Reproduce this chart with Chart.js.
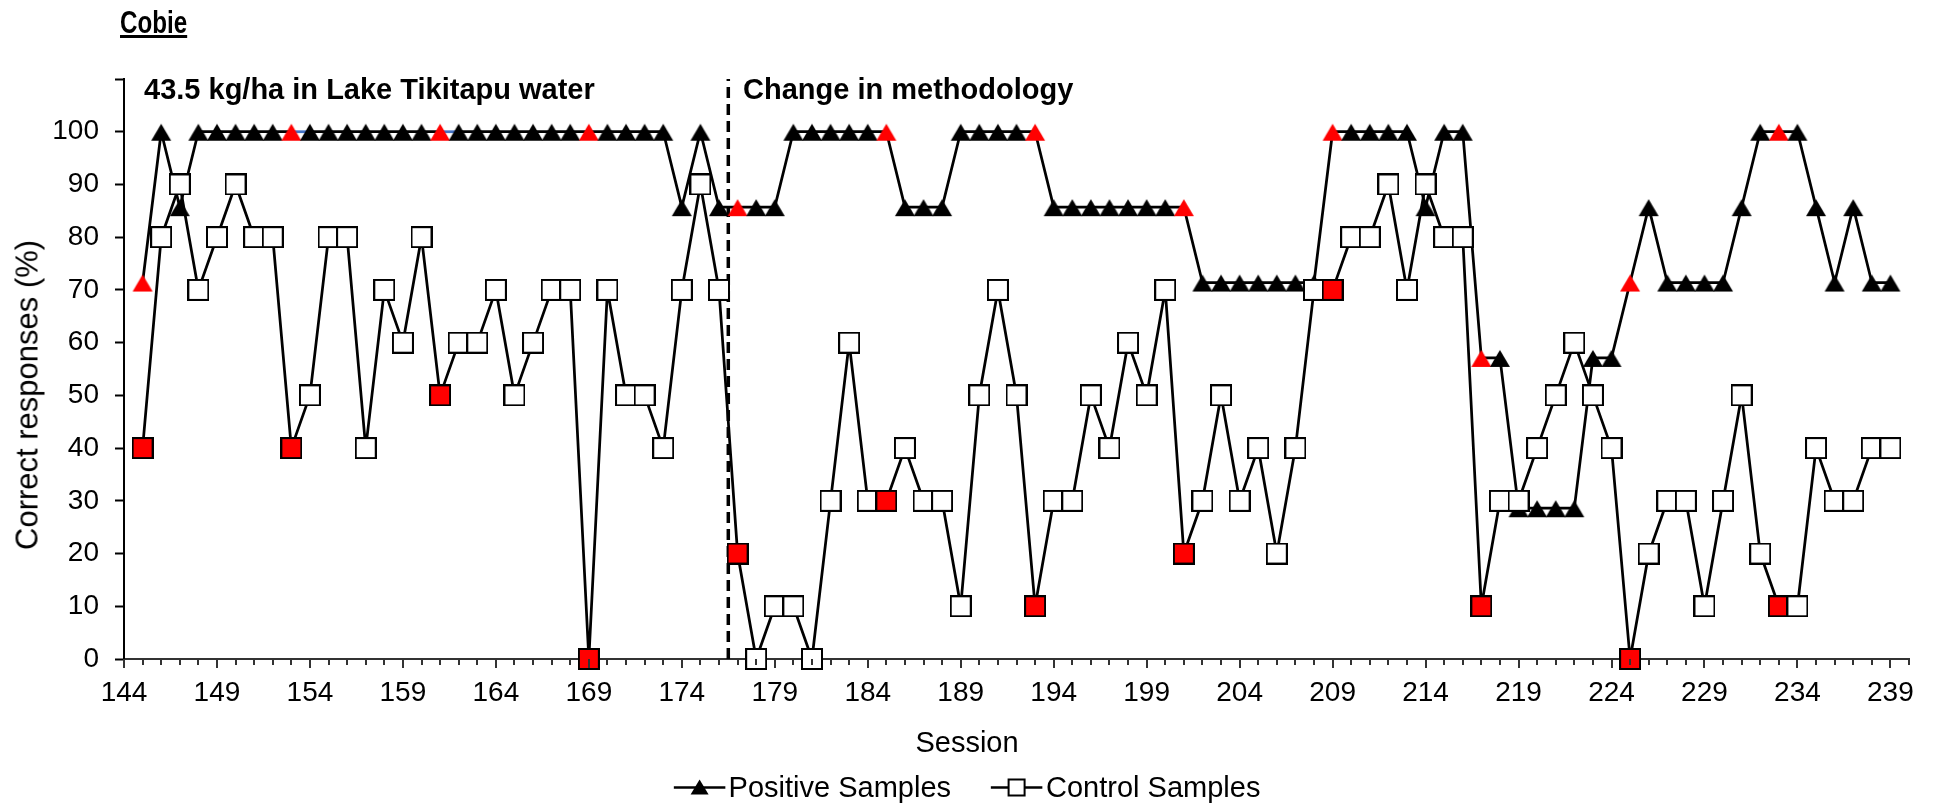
<!DOCTYPE html>
<html>
<head>
<meta charset="utf-8">
<script src="https://cdn.jsdelivr.net/npm/chart.js@4/dist/chart.umd.min.js"></script>
<style>
  body { margin: 0; background: #fff; }
  #wrap { position: relative; width: 1935px; height: 809px; font-family: "Liberation Sans", Arial, sans-serif; color: #000; }
  #chart { position: absolute; left: 0; top: 0; }
  .txt { position: absolute; white-space: nowrap; line-height: 1; }
  .bold { font-weight: bold; }
  #cobie { left: 120px; top: 7px; font-size: 31px; text-decoration: underline; transform: scaleX(0.78); transform-origin: left center; }
  #noteLake { left: 144px; top: 75px; font-size: 29px; }
  #noteMethod { left: 743px; top: 75px; font-size: 29px; }
  #xTitle { left: 967px; top: 742px; font-size: 29px; transform: translate(-50%, -50%); }
  #yTitle { left: 27px; top: 395px; font-size: 31px; transform: translate(-50%, -50%) rotate(-90deg); }
  #legend { left: 967px; top: 787px; font-size: 29px; transform: translate(-50%, -50%); display: flex; align-items: center; }
  #legend .item { display: flex; align-items: center; margin: 0 20px; }
  #legend svg { margin-right: 3px; }
</style>
</head>
<body>
<div id="wrap">
  <canvas id="chart" width="1935" height="809"></canvas>
  <div class="txt bold" id="cobie">Cobie</div>
  <div class="txt bold" id="noteLake">43.5 kg/ha in Lake Tikitapu water</div>
  <div class="txt bold" id="noteMethod">Change in methodology</div>
  <div class="txt" id="xTitle">Session</div>
  <div class="txt" id="yTitle">Correct responses (%)</div>
  <div class="txt" id="legend">
    <div class="item">
      <svg width="52" height="22"><line x1="0" y1="11" x2="52" y2="11" stroke="#000" stroke-width="2.5"/><polygon points="26,3 35,18 17,18" fill="#000"/></svg>
      <span>Positive Samples</span>
    </div>
    <div class="item">
      <svg width="52" height="22"><line x1="0" y1="11" x2="52" y2="11" stroke="#000" stroke-width="2.5"/><rect x="18" y="3" width="16" height="16" fill="#fff" stroke="#000" stroke-width="2"/></svg>
      <span>Control Samples</span>
    </div>
  </div>
</div>
<script>
// sessions with a result
const sessions = [
  145, 146, 147, 148, 149, 150, 151, 152, 153, 154, 155, 156, 157, 158, 159, 160,
  161, 162, 163, 164, 165, 166, 167, 168, 169, 170, 171, 172, 173, 174, 175, 176,
  177, 178, 179, 180, 181, 182, 183, 184, 185, 186, 187, 188, 189, 190, 191, 192,
  193, 194, 195, 196, 197, 198, 199, 200, 201, 202, 203, 204, 205, 206, 207, 208,
  209, 210, 211, 212, 213, 214, 215, 216, 217, 218, 219, 220, 221, 222, 223, 224,
  225, 226, 227, 228, 229, 230, 231, 232, 233, 234, 235, 236, 237, 238, 239
];

// % correct on positive samples
const positiveSamples = [
  71.4, 100, 85.7, 100, 100, 100, 100, 100, 100, 100, 100, 100, 100, 100, 100, 100,
  100, 100, 100, 100, 100, 100, 100, 100, 100, 100, 100, 100, 100, 85.7, 100, 85.7,
  85.7, 85.7, 85.7, 100, 100, 100, 100, 100, 100, 85.7, 85.7, 85.7, 100, 100, 100, 100,
  100, 85.7, 85.7, 85.7, 85.7, 85.7, 85.7, 85.7, 85.7, 71.4, 71.4, 71.4, 71.4, 71.4, 71.4, 71.4,
  100, 100, 100, 100, 100, 85.7, 100, 100, 57.1, 57.1, 28.6, 28.6, 28.6, 28.6, 57.1, 57.1,
  71.4, 85.7, 71.4, 71.4, 71.4, 71.4, 85.7, 100, 100, 100, 85.7, 71.4, 85.7, 71.4, 71.4
];

// % correct on control samples
const controlSamples = [
  40, 80, 90, 70, 80, 90, 80, 80, 40, 50, 80, 80, 40, 70, 60, 80,
  50, 60, 60, 70, 50, 60, 70, 70, 0, 70, 50, 50, 40, 70, 90, 70,
  20, 0, 10, 10, 0, 30, 60, 30, 30, 40, 30, 30, 10, 50, 70, 50,
  10, 30, 30, 50, 40, 60, 50, 70, 20, 30, 50, 30, 40, 20, 40, 70,
  70, 80, 80, 90, 70, 90, 80, 80, 10, 30, 30, 40, 50, 60, 50, 40,
  0, 20, 30, 30, 10, 30, 50, 20, 10, 10, 40, 30, 30, 40, 40
];

// sessions shown in red
const redSessions = [145, 153, 161, 169, 177, 185, 193, 201, 209, 217, 225, 233];
// segments of the positive line drawn in blue (start session)
const blueSegmentStarts = [153, 161];
// methodology change marker
const methodChangeX = [176.5, 176.5];
const methodChangeY = [0, 110];

const yTickLabels = [0, 10, 20, 30, 40, 50, 60, 70, 80, 90, 100];

function toPoints(xs, ys) {
  return xs.map((x, i) => ({ x: x, y: ys[i] }));
}

function triangleMarker(color) {
  const c = document.createElement('canvas');
  c.width = 22; c.height = 36;
  const g = c.getContext('2d');
  g.fillStyle = color;
  g.beginPath();
  g.moveTo(11, 10);
  g.lineTo(21, 27);
  g.lineTo(1, 27);
  g.closePath();
  g.fill();
  return c;
}

function squareMarker(color) {
  const c = document.createElement('canvas');
  c.width = 22; c.height = 22;
  const g = c.getContext('2d');
  g.fillStyle = color;
  g.fillRect(1, 1, 20, 20);
  g.strokeStyle = '#000';
  g.lineWidth = 2;
  g.strokeRect(1, 1, 20, 20);
  return c;
}

const blackTri = triangleMarker('#000');
const redTri = triangleMarker('#ff0000');
const whiteSq = squareMarker('#fff');
const redSq = squareMarker('#ff0000');

const isRed = ctx => redSessions.includes(sessions[ctx.dataIndex]);

// short and long tick marks under the session axis
const sessionTicks = {
  id: 'sessionTicks',
  afterDraw(chart) {
    const xs = chart.scales.x;
    const ctx = chart.ctx;
    ctx.save();
    ctx.strokeStyle = '#333';
    ctx.lineWidth = 2;
    xs.ticks.forEach(t => {
      const px = Math.round(xs.getPixelForValue(t.value));
      const len = (t.value - 144) % 5 === 0 ? 9 : 6;
      ctx.beginPath();
      ctx.moveTo(px, xs.top);
      ctx.lineTo(px, xs.top + len);
      ctx.stroke();
    });
    ctx.restore();
  }
};

const tickFont = { family: '"Liberation Sans", Arial, sans-serif', size: 28 };

new Chart(document.getElementById('chart'), {
  type: 'line',
  data: {
    datasets: [{
      label: 'Control Samples',
      data: toPoints(sessions, controlSamples),
      borderColor: '#000',
      borderWidth: 2.75,
      borderJoinStyle: 'round',
      pointStyle: ctx => isRed(ctx) ? redSq : whiteSq,
      pointRadius: 11,
      clip: false,
      order: 0
    }, {
      label: 'Positive Samples',
      data: toPoints(sessions, positiveSamples),
      borderColor: '#000',
      borderWidth: 2.75,
      borderJoinStyle: 'round',
      segment: {
        borderColor: ctx => blueSegmentStarts.includes(sessions[ctx.p0DataIndex]) ? '#4472c4' : undefined
      },
      pointStyle: ctx => isRed(ctx) ? redTri : blackTri,
      pointRadius: 11,
      clip: false,
      order: 1
    }, {
      label: 'Change in methodology',
      data: toPoints(methodChangeX, methodChangeY),
      borderColor: '#000',
      borderWidth: 3.5,
      borderDash: [11, 6],
      pointRadius: 0,
      order: 2
    }]
  },
  options: {
    responsive: false,
    animation: false,
    events: [],
    layout: { padding: { top: 79, right: 26, left: 0, bottom: 0 } },
    plugins: {
      legend: { display: false },
      title: { display: false },
      tooltip: { enabled: false }
    },
    scales: {
      x: {
        type: 'linear',
        min: 144,
        max: 240,
        afterFit: s => { s.height = 150; },
        ticks: {
          stepSize: 1,
          autoSkip: false,
          maxRotation: 0,
          padding: 9,
          color: '#000',
          font: tickFont,
          callback: v => ((v - 144) % 5 === 0 && v < 240) ? String(v) : ''
        },
        grid: { drawOnChartArea: false, drawTicks: true, tickLength: 8, color: 'rgba(0,0,0,0)' },
        border: { color: '#333', width: 2 }
      },
      y: {
        min: 0,
        max: 110,
        afterFit: s => { s.width = 124; },
        ticks: {
          stepSize: 10,
          padding: 16,
          color: '#000',
          font: tickFont,
          callback: v => yTickLabels.includes(v) ? String(v) : ''
        },
        grid: { drawOnChartArea: false, drawTicks: true, tickLength: 9, tickWidth: 2, tickColor: '#000' },
        border: { color: '#000', width: 2 }
      }
    }
  },
  plugins: [sessionTicks]
});
</script>
</body>
</html>
